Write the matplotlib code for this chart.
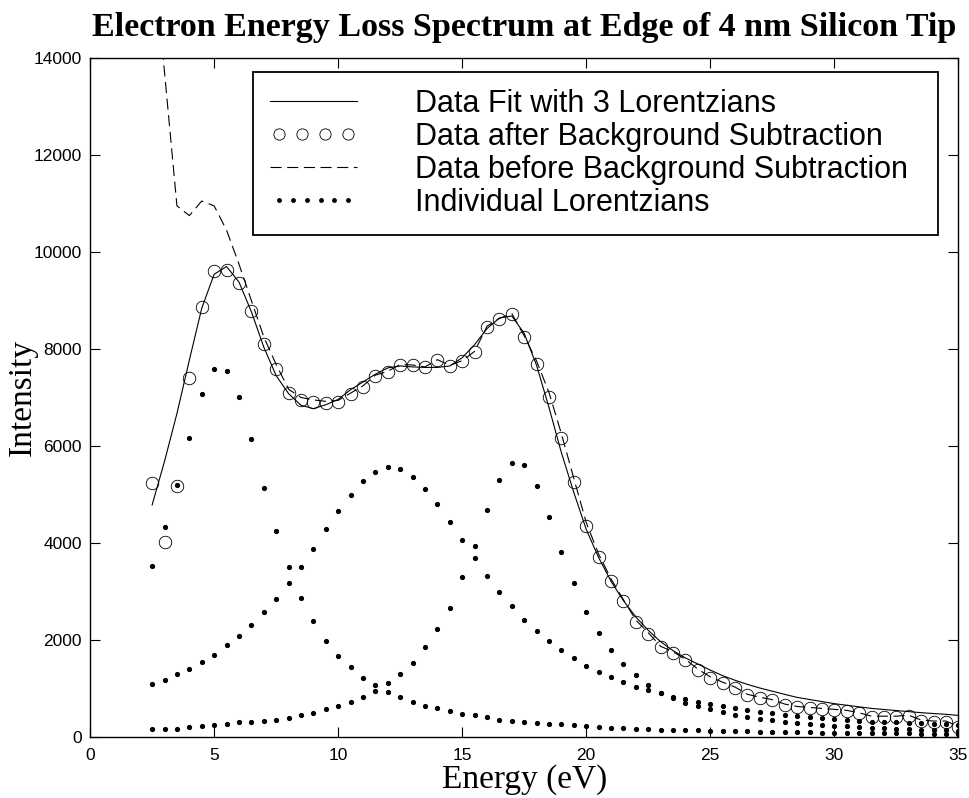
import numpy as np
import matplotlib
matplotlib.use("Agg")
import matplotlib.pyplot as plt
from matplotlib.legend_handler import HandlerLine2D

energy = np.arange(2.5, 35.01, 0.5)

data_after = [5230, 4030, 5180, 7400, 8870, 9610, 9630, 9370, 8780, 8100,
              7580, 7100, 6950, 6910, 6890, 6910, 7070, 7220, 7450, 7530,
              7670, 7660, 7620, 7770, 7650, 7750, 7940, 8460, 8620, 8720,
              8250, 7690, 7020, 6170, 5250, 4350, 3720, 3220, 2800, 2380,
              2130, 1850, 1740, 1580, 1380, 1220, 1110, 1020, 870, 810,
              760, 670, 620, 600, 580, 560, 540, 490, 420, 420,
              420, 440, 340, 320, 320, 210]

data_before = [16500, 13700, 10950, 10750, 11050, 10950, 10450, 9750, 9000, 8250,
               7680, 7170, 7000, 6950, 6920, 6940, 7090, 7240, 7460, 7540,
               7680, 7670, 7630, 7780, 7660, 7760, 7950, 8470, 8630, 8730,
               8270, 7750, 7100, 6250, 5330, 4420, 3770, 3260, 2830, 2410,
               2150, 1870, 1760, 1600, 1400, 1240, 1130, 1030, 880, 820,
               770, 680, 630, 610, 590, 570, 550, 500, 430, 430,
               430, 450, 350, 330, 330, 220]

lorentz_1 = [3530, 4340, 5200, 6170, 7070, 7590, 7550, 7000, 6140, 5130,
             4240, 3500, 2870, 2390, 1990, 1680, 1440, 1220, 1070, 930,
             820, 730, 650, 600, 540, 470, 450, 410, 360, 340,
             300, 290, 270, 260, 240, 230, 210, 190, 180, 165,
             160, 155, 150, 140, 135, 130, 125, 120, 115, 110,
             105, 100, 97, 94, 91, 88, 85, 82, 80, 78,
             76, 74, 72, 70, 68, 66]

lorentz_2 = [1090, 1180, 1300, 1400, 1540, 1700, 1890, 2080, 2310, 2570,
             2850, 3180, 3510, 3880, 4280, 4650, 4990, 5280, 5460, 5570,
             5530, 5370, 5120, 4800, 4440, 4060, 3700, 3320, 2980, 2700,
             2410, 2190, 1980, 1790, 1630, 1470, 1340, 1230, 1130, 1040,
             970, 900, 830, 780, 730, 680, 630, 590, 550, 520,
             490, 460, 430, 410, 390, 370, 350, 340, 320, 310,
             300, 290, 280, 270, 260, 250]

lorentz_3 = [165, 165, 170, 200, 230, 250, 260, 300, 320, 340,
             360, 400, 460, 500, 580, 630, 730, 820, 950, 1110,
             1300, 1530, 1850, 2220, 2670, 3290, 3940, 4690, 5300, 5640,
             5610, 5180, 4540, 3810, 3170, 2580, 2150, 1790, 1500, 1270,
             1070, 910, 800, 710, 640, 570, 510, 460, 420, 380,
             350, 320, 290, 270, 250, 230, 220, 200, 190, 180,
             170, 160, 150, 145, 140, 130]

fit = np.array(lorentz_1) + np.array(lorentz_2) + np.array(lorentz_3)

labels = ["Data Fit with 3 Lorentzians",
          "Data after Background Subtraction",
          "Data before Background Subtraction",
          "Individual Lorentzians"]
x_ticks = [0, 5, 10, 15, 20, 25, 30, 35]
y_ticks = [0, 2000, 4000, 6000, 8000, 10000, 12000, 14000]

fig = plt.figure(figsize=(9.69, 7.98), dpi=100)
ax = fig.add_axes([0.093, 0.0764, 0.896, 0.851])

h_fit, = ax.plot(energy, fit, color="black", lw=0.8)
h_after, = ax.plot(energy, data_after, linestyle="none", marker="o",
                   markersize=9, markerfacecolor="none",
                   markeredgecolor="black", markeredgewidth=0.6)
h_before, = ax.plot(energy, data_before, color="black", lw=0.8,
                    dashes=(10, 5))
h_lor, = ax.plot(energy, lorentz_1, linestyle="none", marker=".",
                 markersize=5.5, color="black")
ax.plot(energy, lorentz_2, linestyle="none", marker=".", markersize=5.5,
        color="black")
ax.plot(energy, lorentz_3, linestyle="none", marker=".", markersize=5.5,
        color="black")

ax.set_xlim(0, 35)
ax.set_ylim(0, 14000)
ax.set_xticks(x_ticks)
ax.set_yticks(y_ticks)
ax.tick_params(direction="in", top=True, right=True, length=7, width=0.8,
               labelsize=12.5)
ax.tick_params(axis="x", pad=8)
ax.tick_params(axis="y", pad=6)
for lab in ax.get_xticklabels() + ax.get_yticklabels():
    lab.set_family("Liberation Sans")
for sp in ax.spines.values():
    sp.set_linewidth(1.0)

ax.set_title("Electron Energy Loss Spectrum at Edge of 4 nm Silicon Tip",
             family="Liberation Serif", fontweight="bold", fontsize=24.5, pad=16)
ax.set_xlabel("Energy (eV)", family="Liberation Serif", fontsize=24, labelpad=1)
ax.set_ylabel("Intensity", family="Liberation Serif", fontsize=24, labelpad=-3)

leg = ax.legend([h_fit, h_after, h_before, h_lor], labels,
                loc="upper left", bbox_to_anchor=(0.188, 0.732, 0.789, 0.247),
                mode="expand",
                prop={"family": "Liberation Sans", "size": 22},
                frameon=True, fancybox=False, shadow=False,
                edgecolor="black", framealpha=1, handlelength=2.85,
                handletextpad=1.9, labelspacing=0.1, borderpad=0.55,
                borderaxespad=0.0, markerscale=0.9,
                handler_map={h_after: HandlerLine2D(numpoints=4),
                             h_lor: HandlerLine2D(numpoints=6)})
leg.get_frame().set_linewidth(1.3)

fig.savefig("out.png", dpi=100)
